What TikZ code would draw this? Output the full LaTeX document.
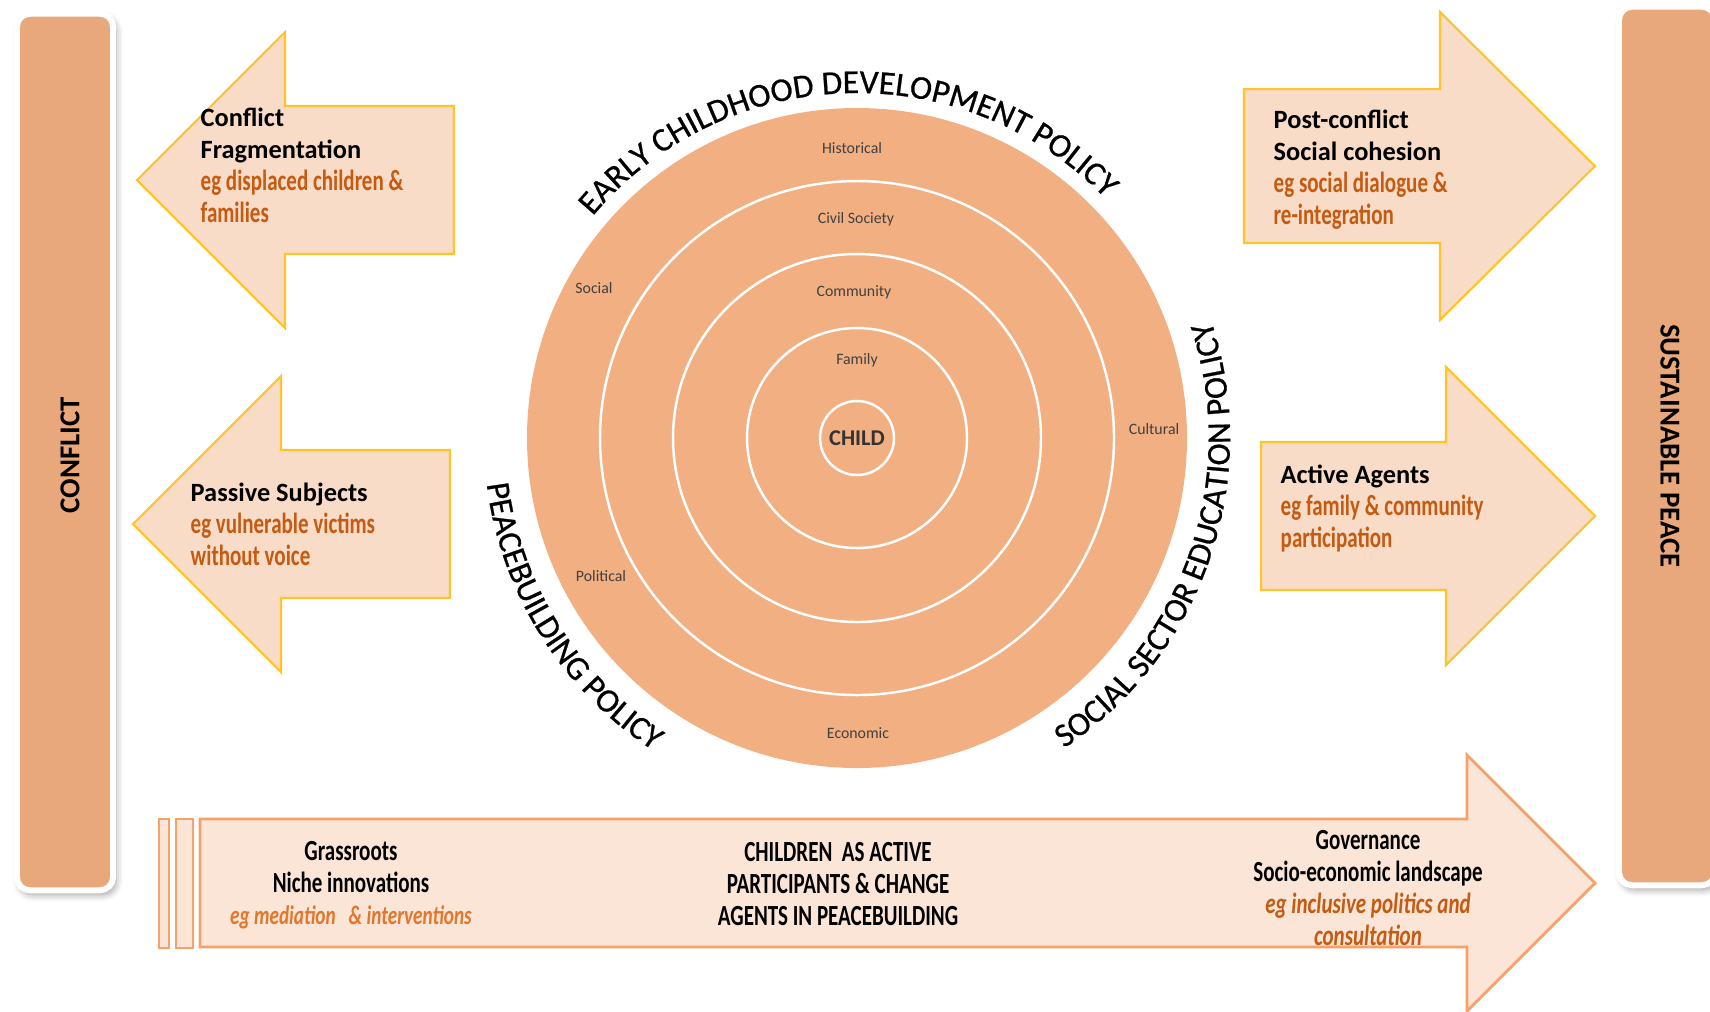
\documentclass[tikz,border=0pt]{standalone}
\usepackage{fontspec}
\setmainfont{Carlito}
\newfontfamily\agency[FakeStretch=0.72]{Carlito}
\newfontfamily\policyface[FakeBold=0.7]{Carlito}
\usetikzlibrary{shadows, shadows.blur}
\usetikzlibrary{decorations, decorations.text}
\definecolor{barfill}{RGB}{232,168,124}
\definecolor{ringfill}{RGB}{242,176,130}
\definecolor{arrowfill}{RGB}{248,220,200}
\definecolor{arrowline}{RGB}{255,196,40}
\definecolor{flowfill}{RGB}{251,229,214}
\definecolor{flowline}{RGB}{244,162,105}
\definecolor{egorange}{RGB}{197,90,17}
\definecolor{eglight}{RGB}{226,118,45}
% name, tip x, mid y, head x, head half, shaft half, tail x
\newcommand{\blockarrow}[7]{%
    \draw[#1] (#2,#3) -- (#4,#3+#5) -- (#4,#3+#6) -- (#7,#3+#6)
        -- (#7,#3-#6) -- (#4,#3-#6) -- (#4,#3-#5) -- cycle;}
\newcommand{\egtext}{\agency\bfseries\fontsize{8.3}{9.1}\selectfont\color{egorange}}
\newcommand{\flowita}{\agency\itshape\fontsize{7.6}{9.1}\selectfont\color{eglight}}
\newcommand{\flowitb}{\agency\bfseries\itshape\fontsize{8.3}{9.1}\selectfont\color{egorange}}
\newcommand{\policyfont}{\policyface\fontsize{9.5}{11}\selectfont}
\tikzset{
    barbox/.style={rounded corners=0.13cm, fill=barfill, draw=white, line width=1.7pt,
        blur shadow={shadow xshift=0.8pt, shadow yshift=-1.2pt, shadow blur radius=2pt}},
    barlabel/.style={font=\fontsize{8.2}{9}\selectfont\bfseries, inner sep=0},
    sidearrow/.style={draw=arrowline, fill=arrowfill, line width=0.6pt},
    flowarrow/.style={draw=flowline, fill=flowfill, line width=0.8pt},
    titletext/.style={font=\fontsize{7.5}{9.1}\selectfont\bfseries, align=left, inner sep=0, anchor=north west},
    flowtext/.style={font=\agency\bfseries\fontsize{8.3}{9.1}\selectfont, align=center, inner sep=0},
    ringlabel/.style={font=\fontsize{4.5}{5}\selectfont, text=black!75, inner sep=0},
    ringline/.style={draw=white, line width=0.7pt},
    policy/.style={decorate, decoration={text along path, text align=center, text={|\policyfont|#1}}}
}
\begin{document}
\begin{tikzpicture}[x=0.01cm, y=0.01cm]
    \useasboundingbox (0,0) rectangle (1710,-1011);
    % end bars
    \node[barbox, minimum width=0.96cm, minimum height=8.76cm] (conflictbar) at (65,-452) {};
    \node[barbox, minimum width=0.96cm, minimum height=8.78cm] (peacebar) at (1667,-446) {};
    \node[barlabel, rotate=90] (conflict) at (70,-455) {CONFLICT};
    \node[barlabel, rotate=-90] (peace) at (1670,-446) {SUSTAINABLE PEACE};
    % side arrows
    \blockarrow{sidearrow}{137}{-180}{285}{148}{74}{454}
    \blockarrow{sidearrow}{133}{-524}{281}{148}{74}{450}
    \blockarrow{sidearrow}{1595}{-166}{1440}{154}{77}{1244}
    \blockarrow{sidearrow}{1595}{-516}{1446}{149}{74}{1261}
    \node[titletext] (frag) at (200,-107) {Conflict\\Fragmentation\\{\egtext eg displaced children \&}\\{\egtext families}};
    \node[titletext] (passive) at (190,-482) {Passive Subjects\\{\egtext eg vulnerable victims}\\{\egtext without voice}};
    \node[titletext] (cohesion) at (1273,-109) {Post-conflict\\Social cohesion\\{\egtext eg social dialogue \&}\\{\egtext re-integration}};
    \node[titletext] (agents) at (1280,-464) {Active Agents\\{\egtext eg family \& community}\\{\egtext participation}};
    % rings
    \coordinate (c) at (857,-438);
    \fill[ringfill] (c) circle[radius=330];
    \foreach \r in {257,184,110,37}
        \draw[ringline] (c) circle[radius=\r];
    \node[font=\fontsize{6.4}{7}\selectfont\bfseries, text=black!80, inner sep=0] (child) at (c) {CHILD};
    \node[ringlabel] (family) at (857,-360) {Family};
    \node[ringlabel] (community) at (854,-292) {Community};
    \node[ringlabel] (civil) at (856,-219) {Civil Society};
    \node[ringlabel] (historical) at (852,-148) {Historical};
    \node[ringlabel] (social) at (594,-288) {Social};
    \node[ringlabel] (cultural) at (1154,-429) {Cultural};
    \node[ringlabel] (political) at (601,-576) {Political};
    \node[ringlabel] (economic) at (858,-733) {Economic};
    \path[policy=EARLY CHILDHOOD DEVELOPMENT POLICY] (c) ++(182:345) arc[start angle=182, end angle=2, radius=345];
    \path[policy=SOCIAL SECTOR EDUCATION POLICY] (c) ++(-64:373) arc[start angle=-64, end angle=26, radius=373];
    \path[policy=PEACEBUILDING POLICY] (c) ++(167:373) arc[start angle=167, end angle=257, radius=373];
    % flow arrow
    \draw[flowarrow] (159,-819) rectangle (169,-948);
    \draw[flowarrow] (176,-819) rectangle (193,-948);
    \blockarrow{flowarrow}{1595}{-883}{1467}{128}{64}{200}
    \node[flowtext] (grassroots) at (351,-885) {Grassroots\\Niche innovations\\{\flowita eg mediation\ \ \ \& interventions}};
    \node[flowtext] (children) at (838,-884) {CHILDREN\ \ AS ACTIVE\\PARTICIPANTS\,\& CHANGE\\AGENTS IN PEACEBUILDING};
    \node[flowtext] (governance) at (1368,-888) {Governance\\Socio-economic landscape\\{\flowitb eg inclusive politics and}\\{\flowitb consultation}};
\end{tikzpicture}
\end{document}
